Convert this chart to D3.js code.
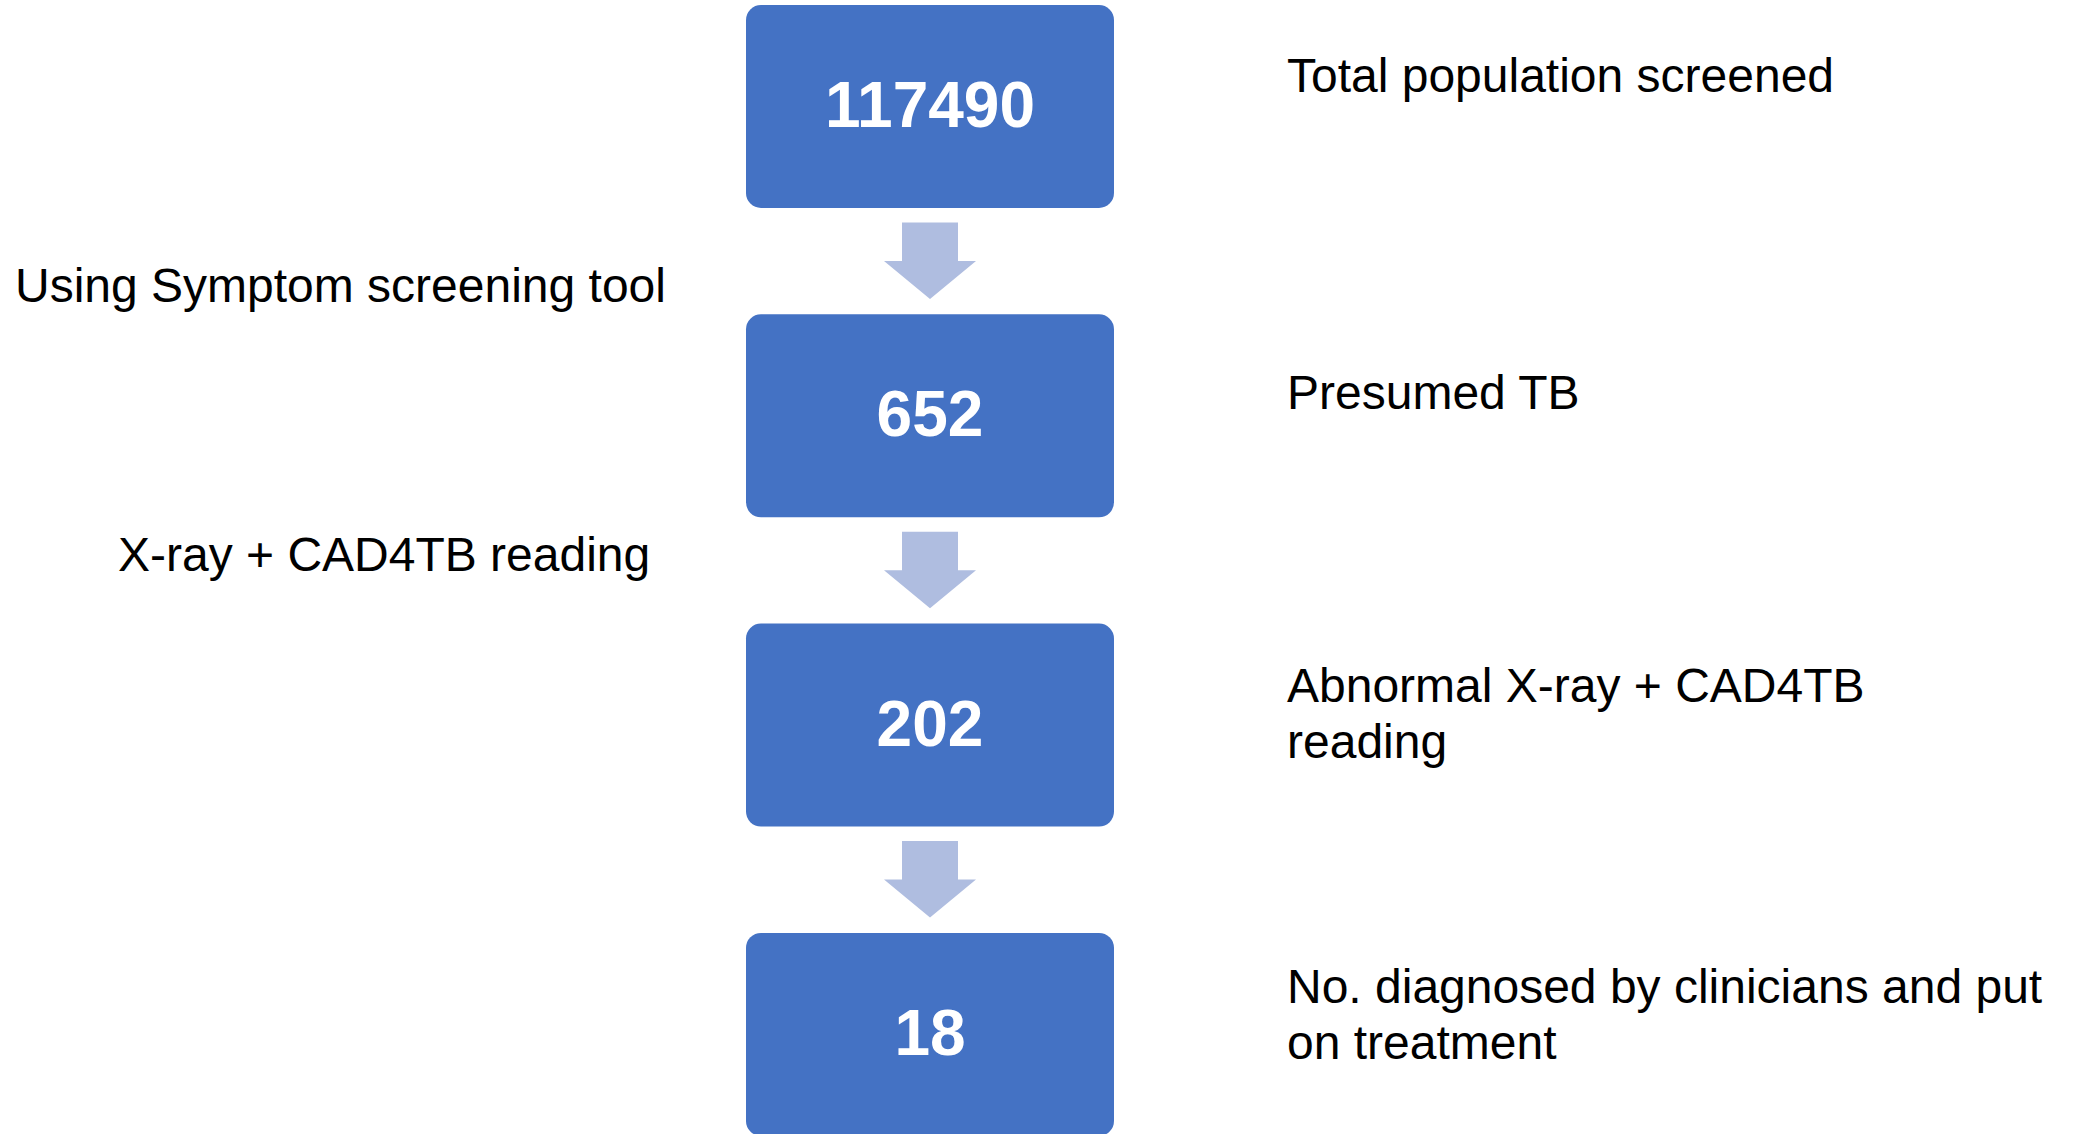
<!DOCTYPE html>
<html>
<head>
<meta charset="utf-8">
<script src="https://cdn.jsdelivr.net/npm/d3@7"></script>
<style>
  html, body { margin: 0; padding: 0; background: #ffffff; overflow: hidden; }
  svg { display: block; }
  text { font-family: "Liberation Sans", Arial, Helvetica, sans-serif; }
</style>
</head>
<body>
<svg id="chart" width="2074" height="1134"></svg>
<script>
// ---- Data ----
const stepValues = [117490, 652, 202, 18];
const stepLabels = [
  ["Total population screened"],
  ["Presumed TB"],
  ["Abnormal X-ray + CAD4TB", "reading"],
  ["No. diagnosed by clinicians and put", "on treatment"]
];
const transitionLabels = ["Using Symptom screening tool", "X-ray + CAD4TB reading"];

// ---- Layout ----
const W = 2074, H = 1134;
const svg = d3.select("#chart");

const boxColor = "#4472C4";
const arrowColor = "#AFBDE0";

const idx = d3.range(stepValues.length);
// vertical position scale: step index -> box top
const yTop = d3.scaleLinear().domain([0, 1]).range([5, 314.3]);
const boxH = 203;
const boxX = d3.scaleLinear().domain([0, 1]).range([746, 1114]);
const cx = (boxX(0) + boxX(1)) / 2;

// Boxes
svg.selectAll("rect.box")
  .data(idx)
  .join("rect")
  .attr("class", "box")
  .attr("x", boxX(0))
  .attr("y", d => yTop(d))
  .attr("width", boxX(1) - boxX(0))
  .attr("height", boxH)
  .attr("rx", 15)
  .attr("ry", 15)
  .attr("fill", boxColor);

// Numbers
svg.selectAll("text.num")
  .data(stepValues)
  .join("text")
  .attr("class", "num")
  .attr("x", cx)
  .attr("y", (d, i) => yTop(i) + 122)
  .attr("text-anchor", "middle")
  .attr("font-weight", "bold")
  .attr("font-size", 64)
  .attr("fill", "#ffffff")
  .text(d => String(d));

// Arrows between boxes
const arrowPath = (i) => {
  const top = yTop(i) + boxH + 14.5;
  const shaftHalf = 28, headHalf = 46;
  const headStart = top + 38.5, tip = top + 76.5;
  return d3.line()([
    [cx - shaftHalf, top], [cx + shaftHalf, top], [cx + shaftHalf, headStart],
    [cx + headHalf, headStart], [cx, tip], [cx - headHalf, headStart],
    [cx - shaftHalf, headStart]
  ]) + "Z";
};
svg.selectAll("path.arrow")
  .data(idx.slice(0, -1))
  .join("path")
  .attr("class", "arrow")
  .attr("d", d => arrowPath(d))
  .attr("fill", arrowColor);

// Right-side step labels
const rightX = 1287;
const lineGap = 56;
const rightBase = [92, 409, 701.5, 1002.5];
svg.selectAll("text.rlabel")
  .data(stepLabels)
  .join("text")
  .attr("class", "rlabel")
  .attr("x", rightX)
  .attr("y", (d, i) => rightBase[i])
  .attr("font-size", 48)
  .attr("fill", "#000000")
  .each(function(lines) {
    d3.select(this).selectAll("tspan")
      .data(lines)
      .join("tspan")
      .attr("x", rightX)
      .attr("dy", (l, j) => j === 0 ? 0 : lineGap)
      .text(l => l);
  });

// Left-side transition labels
const leftX = [15, 118];
const leftBase = [301.5, 570.5];
svg.selectAll("text.llabel")
  .data(transitionLabels)
  .join("text")
  .attr("class", "llabel")
  .attr("x", (d, i) => leftX[i])
  .attr("y", (d, i) => leftBase[i])
  .attr("font-size", 48)
  .attr("fill", "#000000")
  .text(d => d);
</script>
</body>
</html>
